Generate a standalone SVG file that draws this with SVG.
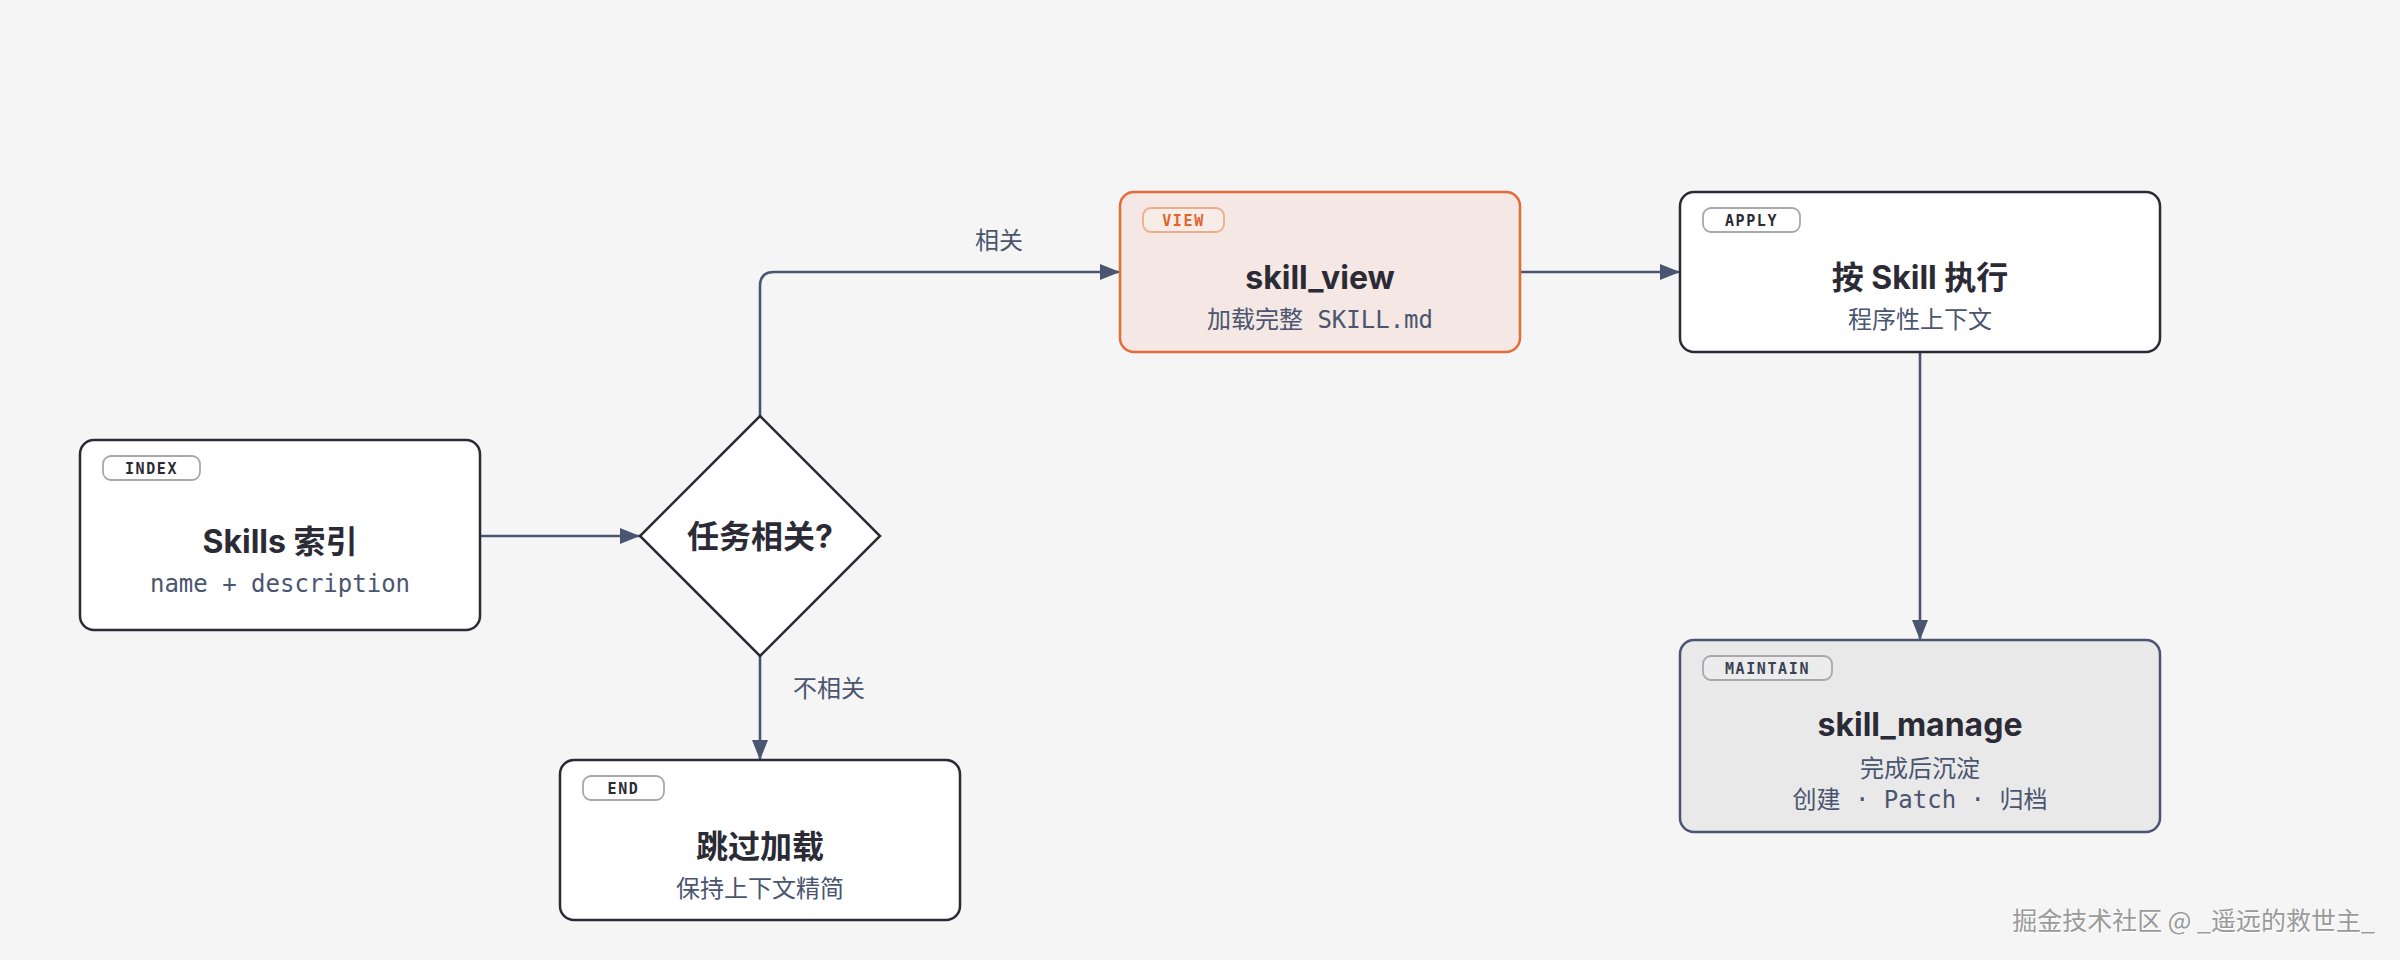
<svg xmlns="http://www.w3.org/2000/svg" width="2400" height="960" viewBox="0 0 2400 960">
  <style>
    .node { fill: #ffffff; stroke: #2b2b36; stroke-width: 2.5; }
    .badge { fill: #ffffff; stroke: #a8a8ac; stroke-width: 1.8; }
    .badgeText { font-family: "DejaVu Sans Mono", "Liberation Mono", monospace; font-weight: 700; font-size: 15px; letter-spacing: 1.6px; fill: #2b2b36; text-anchor: middle; }
    .title { font-family: Inter, "Noto Sans CJK SC", sans-serif; font-weight: 700; font-size: 32px; fill: #2b2b36; text-anchor: middle; }
    .sub { font-family: "DejaVu Sans Mono", "Noto Sans CJK SC", monospace; font-size: 24px; fill: #4a5570; text-anchor: middle; }
    .edge { fill: none; stroke: #4a5670; stroke-width: 2.6; }
    .elabel { font-family: Inter, "Noto Sans CJK SC", sans-serif; font-size: 24px; fill: #4a5570; }
    .wm { font-family: "Noto Sans CJK SC", sans-serif; font-size: 25px; text-anchor: end; }
  </style>
  <defs>
    <marker id="arrow" viewBox="0 0 20 16" refX="20" refY="8" markerWidth="20" markerHeight="16" markerUnits="userSpaceOnUse" orient="auto">
      <path d="M0,0 L20,8 L0,16 Z" fill="#4a5670"/>
    </marker>
  </defs>
  <rect x="0" y="0" width="2400" height="960" fill="#f5f5f5"/>

  <g id="connectors">
    <path class="edge" d="M480,536 H640" marker-end="url(#arrow)"/>
    <path class="edge" d="M760,416 V286 Q760,272 774,272 H1120" marker-end="url(#arrow)"/>
    <path class="edge" d="M760,656 V760" marker-end="url(#arrow)"/>
    <path class="edge" d="M1520,272 H1680" marker-end="url(#arrow)"/>
    <path class="edge" d="M1920,352 V640" marker-end="url(#arrow)"/>
    <text class="elabel" x="975" y="249">相关</text>
    <text class="elabel" x="793" y="697">不相关</text>
  </g>

  <g id="index">
    <rect class="node" x="80" y="440" width="400" height="190" rx="14"/>
    <rect class="badge" x="103" y="456" width="97" height="24" rx="8"/>
    <text class="badgeText" x="151.5" y="473.5">INDEX</text>
    <text class="title" x="280" y="553">Skills 索引</text>
    <text class="sub" x="280" y="592">name + description</text>
  </g>

  <g id="decision">
    <polygon points="760,416 880,536 760,656 640,536" fill="#ffffff" stroke="#2b2b36" stroke-width="2.5"/>
    <text class="title" x="760" y="548">任务相关?</text>
  </g>

  <g id="end">
    <rect class="node" x="560" y="760" width="400" height="160" rx="14"/>
    <rect class="badge" x="583" y="776" width="81" height="24" rx="8"/>
    <text class="badgeText" x="623.5" y="793.5">END</text>
    <text class="title" x="760" y="858">跳过加载</text>
    <text class="sub" x="760" y="897">保持上下文精简</text>
  </g>

  <g id="view">
    <rect x="1120" y="192" width="400" height="160" rx="14" fill="#f5e7e3" stroke="#e36d36" stroke-width="2.5"/>
    <rect x="1143" y="208" width="81" height="24" rx="8" fill="#f7ece8" stroke="#f0ab8b" stroke-width="1.8"/>
    <text class="badgeText" x="1183.5" y="225.5" style="fill:#e2652d">VIEW</text>
    <text class="title" x="1320" y="289">skill_view</text>
    <text class="sub" x="1320" y="328">加载完整 SKILL.md</text>
  </g>

  <g id="apply">
    <rect class="node" x="1680" y="192" width="480" height="160" rx="14"/>
    <rect class="badge" x="1703" y="208" width="97" height="24" rx="8"/>
    <text class="badgeText" x="1751.5" y="225.5">APPLY</text>
    <text class="title" x="1920" y="289">按 Skill 执行</text>
    <text class="sub" x="1920" y="328">程序性上下文</text>
  </g>

  <g id="maintain">
    <rect x="1680" y="640" width="480" height="192" rx="14" fill="#e9e9ea" stroke="#4a5570" stroke-width="2.5"/>
    <rect x="1703" y="656" width="129" height="24" rx="8" fill="#ececed" stroke="#a8a8ac" stroke-width="1.8"/>
    <text class="badgeText" x="1767.5" y="673.5" style="fill:#3a4256">MAINTAIN</text>
    <text class="title" x="1920" y="736">skill_manage</text>
    <text class="sub" x="1920" y="777">完成后沉淀</text>
    <text class="sub" x="1920" y="808">创建 · Patch · 归档</text>
  </g>

  <g id="watermark">
    <text class="wm" x="2376" y="931" fill="#ffffff">掘金技术社区 @ _遥远的救世主_</text>
    <text class="wm" x="2375" y="930" fill="#9a9a9a">掘金技术社区 @ _遥远的救世主_</text>
  </g>
</svg>
